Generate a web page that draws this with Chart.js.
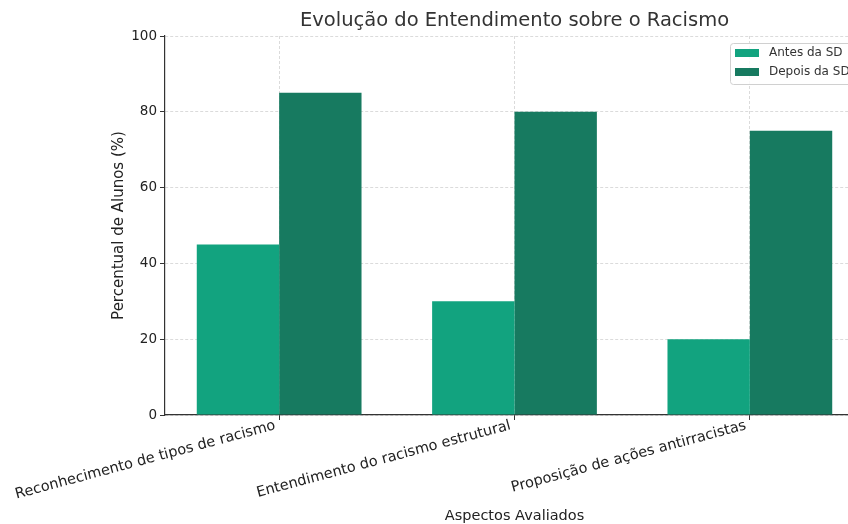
<!DOCTYPE html>
<html>
<head>
<meta charset="utf-8">
<script src="https://cdn.jsdelivr.net/npm/chart.js@4"></script>
<style>
  html, body { margin: 0; padding: 0; overflow: hidden; background: #fff; }
  #wrap { position: relative; width: 864px; height: 524px; }
</style>
</head>
<body>
<div id="wrap"><canvas id="c" width="864" height="524"></canvas></div>
<script>
const chartTitle = "Evolução do Entendimento sobre o Racismo";
const categories = [
  "Reconhecimento de tipos de racismo",
  "Entendimento do racismo estrutural",
  "Proposição de ações antirracistas"
];
const seriesNames = ["Antes da SD", "Depois da SD"];
const antesValues = [45, 30, 20];
const depoisValues = [85, 80, 75];
const yTicks = [0, 20, 40, 60, 80, 100];
const xTitle = "Aspectos Avaliados";
const yTitle = "Percentual de Alunos (%)";
const colors = ["#12a37f", "#177a60"];

const FONT = "'DejaVu Sans', sans-serif";

const titlePlugin = {
  id: 'areaTitle',
  afterDraw(chart) {
    const ctx = chart.ctx, a = chart.chartArea;
    ctx.save();
    ctx.font = "19.5px " + FONT;
    ctx.fillStyle = "#333";
    ctx.textAlign = "center";
    ctx.textBaseline = "middle";
    ctx.fillText(chartTitle, (a.left + a.right) / 2, 21);
    ctx.restore();
  }
};

const legendPlugin = {
  id: 'boxLegend',
  afterDraw(chart) {
    const ctx = chart.ctx;
    const x = 730, y = 43, w = 150, h = 41;
    ctx.save();
    ctx.fillStyle = "rgba(255,255,255,0.85)";
    ctx.strokeStyle = "#d0d0d0";
    ctx.lineWidth = 1;
    ctx.beginPath();
    ctx.roundRect(x + 0.5, y + 0.5, w, h, 3);
    ctx.fill();
    ctx.stroke();
    ctx.font = "12px " + FONT;
    ctx.textBaseline = "middle";
    ctx.textAlign = "left";
    chart.data.datasets.forEach((ds, i) => {
      const cy = 53 + i * 19;
      ctx.fillStyle = ds.backgroundColor;
      ctx.fillRect(735, cy - 4, 24, 8);
      ctx.fillStyle = "#333";
      ctx.fillText(ds.label, 769, cy);
    });
    ctx.restore();
  }
};

new Chart(document.getElementById('c'), {
  type: 'bar',
  data: {
    labels: categories,
    datasets: [
      { label: seriesNames[0], data: antesValues, backgroundColor: colors[0], borderWidth: 0 },
      { label: seriesNames[1], data: depoisValues, backgroundColor: colors[1], borderWidth: 0 }
    ]
  },
  options: {
    responsive: false,
    animation: false,
    devicePixelRatio: 1,
    layout: { padding: { left: 110, top: 36, right: 0, bottom: 0 } },
    plugins: {
      legend: { display: false },
      title: { display: false },
      tooltip: { enabled: false }
    },
    datasets: { bar: { categoryPercentage: 0.7, barPercentage: 1.0 } },
    scales: {
      x: {
        z: 1,
        offset: true,
        afterBuildTicks(s) { s._startValue = -0.485; s._valueRange = 2.97; },
        afterFit(s) { s.height = 109; s.paddingLeft = 0; s.paddingRight = 0; },
        grid: { offset: false, color: "rgba(190,190,190,0.55)", lineWidth: 1, drawTicks: true, tickLength: 5, tickColor: "#333", tickWidth: 1 },
        border: { display: true, color: "#333", width: 1.2, dash: [3, 2] },
        ticks: { minRotation: 15, maxRotation: 15, autoSkip: false, padding: -3, labelOffset: -4, color: "#222", font: { family: FONT, size: 14.5 } },
        title: { display: true, text: xTitle, color: "#222", font: { family: FONT, size: 14.5 }, padding: { top: 0, bottom: -1 } }
      },
      y: {
        z: 1,
        min: 0,
        max: 100,
        afterBuildTicks(s) { s.ticks = yTicks.map(v => ({ value: v })); },
        afterFit(s) { s.width = 55; s.paddingTop = 0; s.paddingBottom = 0; },
        grid: { color: "rgba(190,190,190,0.55)", lineWidth: 1, drawTicks: true, tickLength: 5, tickColor: "#333", tickWidth: 1 },
        border: { display: true, color: "#333", width: 1.2, dash: [3, 2] },
        ticks: { padding: 3, color: "#222", font: { family: FONT, size: 13.5 } },
        title: { display: true, text: yTitle, color: "#222", font: { family: FONT, size: 15 }, padding: { top: 0, bottom: 0 } }
      }
    }
  },
  plugins: [titlePlugin, legendPlugin]
});
</script>
</body>
</html>
